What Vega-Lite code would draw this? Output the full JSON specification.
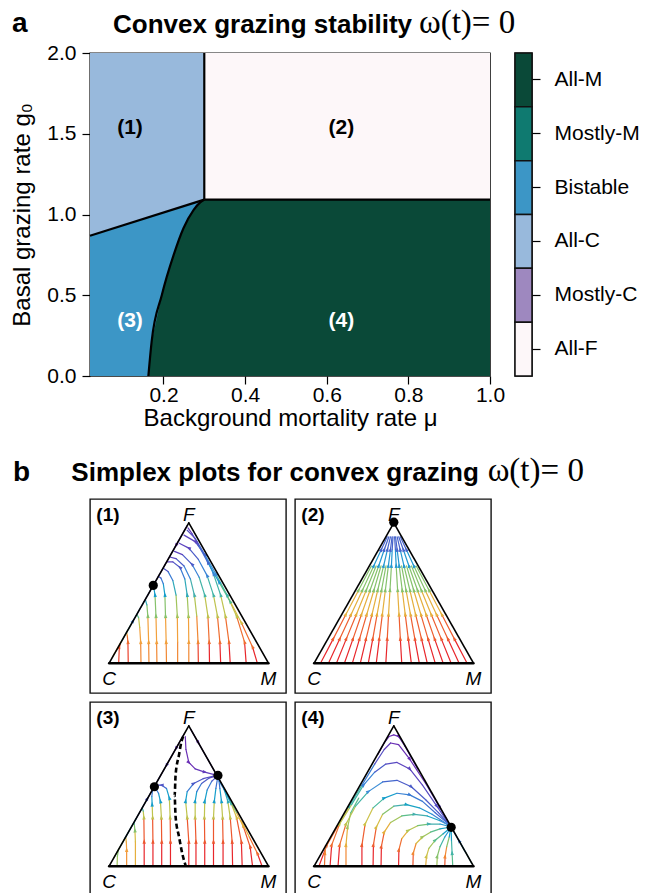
{
  "$schema": "https://vega.github.io/schema/vega-lite/v6.json",
  "background": "white",
  "padding": {"left": 10, "top": 6, "right": 0, "bottom": 0},
  "config": {
    "font": "Liberation Sans",
    "view": {"stroke": "#111", "strokeWidth": 1.4},
    "axis": {"grid": false, "domain": false, "labelColor": "black", "titleColor": "black", "tickColor": "black", "tickSize": 8, "tickWidth": 1.2, "labelFontSize": 21, "titleFontSize": 24, "titleFontWeight": "normal", "labelFlush": false}
  },
  "datasets": {
    "tri": [
      {"e": "b", "x": 0, "y": 0, "x2": 1, "y2": 0},
      {"e": "l", "x": 0, "y": 0, "x2": 0.5, "y2": 0.866},
      {"e": "r", "x": 1, "y": 0, "x2": 0.5, "y2": 0.866}
    ],
    "verts": [
      {"t": "C", "x": 0, "y": -0.1},
      {"t": "M", "x": 1, "y": -0.1},
      {"t": "F", "x": 0.5, "y": 0.917}
    ],
    "p1": [
      {"s": 1, "x": [0.06, 0.064, 0.07], "y": [0, 0.1, 0.12], "c": [0.05, 0.1, 0.15], "a": [0, 1, 0]},
      {"s": 2, "x": [0.12, 0.118, 0.114, 0.11], "y": [0, 0.13, 0.17, 0.19], "c": [0.05, 0.15, 0.25, 0.3], "a": [0, 1, 0, 0]},
      {"s": 3, "x": [0.2, 0.198, 0.192, 0.185, 0.175], "y": [0, 0.13, 0.22, 0.28, 0.3], "c": [0.2, 0.25, 0.4, 0.55, 0.6], "a": [0, 1, 0, 0, 0]},
      {"s": 4, "x": [0.25, 0.248, 0.243, 0.237, 0.228], "y": [0, 0.13, 0.29, 0.36, 0.39], "c": [0.2, 0.25, 0.5, 0.65, 0.7], "a": [0, 1, 1, 0, 0]},
      {"s": 5, "x": [0.3, 0.298, 0.294, 0.288, 0.28], "y": [0, 0.13, 0.29, 0.42, 0.47], "c": [0.2, 0.25, 0.5, 0.7, 0.8], "a": [0, 1, 1, 1, 0]},
      {"s": 6, "x": [0.36, 0.358, 0.354, 0.35, 0.34, 0.325, 0.31], "y": [0, 0.13, 0.29, 0.42, 0.49, 0.525, 0.535], "c": [0.2, 0.25, 0.5, 0.7, 0.8, 0.88, 0.9], "a": [0, 1, 1, 1, 0, 0, 0]},
      {"s": 7, "x": [0.5, 0.5, 0.498, 0.49, 0.475, 0.445, 0.4, 0.36], "y": [0, 0.13, 0.29, 0.42, 0.52, 0.59, 0.625, 0.625], "c": [0.2, 0.25, 0.45, 0.65, 0.8, 0.9, 0.95, 0.95], "a": [0, 1, 1, 1, 0, 1, 0, 0]},
      {"s": 8, "x": [0.63, 0.628, 0.62, 0.6, 0.565, 0.52, 0.46, 0.41], "y": [0, 0.13, 0.29, 0.42, 0.53, 0.61, 0.67, 0.69], "c": [0, 0.15, 0.4, 0.6, 0.78, 0.88, 0.95, 0.95], "a": [0, 1, 1, 1, 0, 1, 0, 0]},
      {"s": 9, "x": [0.7, 0.695, 0.68, 0.655, 0.615, 0.56, 0.5, 0.44], "y": [0, 0.13, 0.29, 0.42, 0.54, 0.64, 0.71, 0.74], "c": [0, 0.15, 0.4, 0.6, 0.78, 0.88, 0.95, 0.97], "a": [0, 1, 1, 1, 1, 0, 1, 0]},
      {"s": 10, "x": [0.76, 0.752, 0.73, 0.7, 0.655, 0.6, 0.54, 0.47], "y": [0, 0.13, 0.29, 0.42, 0.55, 0.67, 0.75, 0.79], "c": [0, 0.15, 0.4, 0.6, 0.78, 0.88, 0.95, 0.97], "a": [0, 1, 1, 1, 1, 0, 1, 0]},
      {"s": 11, "x": [0.86, 0.85, 0.8, 0.74, 0.67, 0.6, 0.54, 0.49], "y": [0, 0.13, 0.29, 0.42, 0.55, 0.67, 0.77, 0.82], "c": [0, 0.15, 0.4, 0.6, 0.75, 0.85, 0.92, 0.97], "a": [0, 1, 1, 1, 1, 1, 0, 0]},
      {"s": 12, "x": [0.93, 0.9, 0.83, 0.76, 0.69, 0.62, 0.56, 0.52, 0.495], "y": [0, 0.1, 0.25, 0.38, 0.5, 0.62, 0.73, 0.8, 0.835], "c": [0, 0.15, 0.35, 0.55, 0.72, 0.85, 0.93, 0.97, 1], "a": [0, 1, 1, 1, 1, 1, 0, 0, 0]},
      {"s": 13, "x": [0.02, 0.08, 0.15, 0.22, 0.27], "y": [0.035, 0.139, 0.26, 0.381, 0.468], "c": [0.3, 0.6, 0.8, 0.9, 0.95], "a": [0, 0, 1, 0, 0]},
      {"s": 14, "x": [0.49, 0.42, 0.35, 0.29], "y": [0.849, 0.727, 0.606, 0.502], "c": [1, 1, 0.97, 0.95], "a": [0, 1, 0, 0]},
      {"s": 15, "x": [0.43, 0.43, 0.428, 0.42, 0.4, 0.37, 0.34], "y": [0, 0.13, 0.29, 0.42, 0.51, 0.565, 0.585], "c": [0.2, 0.25, 0.45, 0.65, 0.8, 0.9, 0.93], "a": [0, 0, 1, 0, 0, 0, 0]},
      {"s": 16, "x": [0.56, 0.558, 0.55, 0.535, 0.51, 0.47, 0.42, 0.38], "y": [0, 0.13, 0.29, 0.42, 0.52, 0.6, 0.645, 0.655], "c": [0.05, 0.2, 0.42, 0.62, 0.78, 0.88, 0.95, 0.96], "a": [0, 1, 0, 1, 0, 0, 0, 0]}
    ],
    "p2": [
      {"s": 1, "x": [0.04, 0.12, 0.199, 0.279, 0.359], "y": [0, 0.15, 0.3, 0.45, 0.6], "c": [0, 0.12, 0.3, 0.5, 0.72], "a": [0, 1, 1, 1, 0]},
      {"s": 2, "x": [0.09, 0.161, 0.232, 0.303, 0.374, 0.421, 0.459], "y": [0, 0.15, 0.3, 0.45, 0.6, 0.7, 0.78], "c": [0, 0.12, 0.3, 0.5, 0.72, 0.86, 0.97], "a": [0, 1, 1, 1, 1, 1, 0]},
      {"s": 3, "x": [0.14, 0.202, 0.265, 0.327, 0.389], "y": [0, 0.15, 0.3, 0.45, 0.6], "c": [0, 0.12, 0.3, 0.5, 0.72], "a": [0, 1, 1, 1, 0]},
      {"s": 4, "x": [0.19, 0.244, 0.297, 0.351, 0.405, 0.44, 0.469], "y": [0, 0.15, 0.3, 0.45, 0.6, 0.7, 0.78], "c": [0, 0.12, 0.3, 0.5, 0.72, 0.86, 0.97], "a": [0, 1, 1, 1, 1, 1, 0]},
      {"s": 5, "x": [0.24, 0.285, 0.33, 0.375, 0.42], "y": [0, 0.15, 0.3, 0.45, 0.6], "c": [0, 0.12, 0.3, 0.5, 0.72], "a": [0, 1, 1, 1, 0]},
      {"s": 6, "x": [0.29, 0.326, 0.363, 0.399, 0.436, 0.46, 0.479], "y": [0, 0.15, 0.3, 0.45, 0.6, 0.7, 0.78], "c": [0, 0.12, 0.3, 0.5, 0.72, 0.86, 0.97], "a": [0, 1, 1, 1, 1, 1, 0]},
      {"s": 7, "x": [0.34, 0.368, 0.395, 0.423, 0.451], "y": [0, 0.15, 0.3, 0.45, 0.6], "c": [0, 0.12, 0.3, 0.5, 0.72], "a": [0, 1, 1, 1, 0]},
      {"s": 8, "x": [0.39, 0.409, 0.428, 0.447, 0.466, 0.479, 0.489], "y": [0, 0.15, 0.3, 0.45, 0.6, 0.7, 0.78], "c": [0, 0.12, 0.3, 0.5, 0.72, 0.86, 0.97], "a": [0, 1, 1, 1, 1, 1, 0]},
      {"s": 9, "x": [0.45, 0.459, 0.467, 0.476, 0.485, 0.49, 0.495], "y": [0, 0.15, 0.3, 0.45, 0.6, 0.7, 0.78], "c": [0, 0.12, 0.3, 0.5, 0.72, 0.86, 0.97], "a": [0, 1, 1, 1, 1, 0, 0]},
      {"s": 10, "x": [0.55, 0.541, 0.533, 0.524, 0.515, 0.51, 0.505], "y": [0, 0.15, 0.3, 0.45, 0.6, 0.7, 0.78], "c": [0, 0.12, 0.3, 0.5, 0.72, 0.86, 0.97], "a": [0, 1, 1, 1, 1, 0, 0]},
      {"s": 11, "x": [0.61, 0.591, 0.572, 0.553, 0.534, 0.521, 0.511], "y": [0, 0.15, 0.3, 0.45, 0.6, 0.7, 0.78], "c": [0, 0.12, 0.3, 0.5, 0.72, 0.86, 0.97], "a": [0, 1, 1, 1, 1, 1, 0]},
      {"s": 12, "x": [0.66, 0.632, 0.605, 0.577, 0.549], "y": [0, 0.15, 0.3, 0.45, 0.6], "c": [0, 0.12, 0.3, 0.5, 0.72], "a": [0, 1, 1, 1, 0]},
      {"s": 13, "x": [0.71, 0.674, 0.637, 0.601, 0.564, 0.54, 0.521], "y": [0, 0.15, 0.3, 0.45, 0.6, 0.7, 0.78], "c": [0, 0.12, 0.3, 0.5, 0.72, 0.86, 0.97], "a": [0, 1, 1, 1, 1, 1, 0]},
      {"s": 14, "x": [0.76, 0.715, 0.67, 0.625, 0.58], "y": [0, 0.15, 0.3, 0.45, 0.6], "c": [0, 0.12, 0.3, 0.5, 0.72], "a": [0, 1, 1, 1, 0]},
      {"s": 15, "x": [0.81, 0.756, 0.703, 0.649, 0.595, 0.56, 0.531], "y": [0, 0.15, 0.3, 0.45, 0.6, 0.7, 0.78], "c": [0, 0.12, 0.3, 0.5, 0.72, 0.86, 0.97], "a": [0, 1, 1, 1, 1, 1, 0]},
      {"s": 16, "x": [0.86, 0.798, 0.735, 0.673, 0.611], "y": [0, 0.15, 0.3, 0.45, 0.6], "c": [0, 0.12, 0.3, 0.5, 0.72], "a": [0, 1, 1, 1, 0]},
      {"s": 17, "x": [0.91, 0.839, 0.768, 0.697, 0.626, 0.579, 0.541], "y": [0, 0.15, 0.3, 0.45, 0.6, 0.7, 0.78], "c": [0, 0.12, 0.3, 0.5, 0.72, 0.86, 0.97], "a": [0, 1, 1, 1, 1, 1, 0]},
      {"s": 18, "x": [0.96, 0.88, 0.801, 0.721, 0.641], "y": [0, 0.15, 0.3, 0.45, 0.6], "c": [0, 0.12, 0.3, 0.5, 0.72], "a": [0, 1, 1, 1, 0]}
    ],
    "p3": [
      {"s": 1, "x": [0.05, 0.052, 0.058], "y": [0, 0.06, 0.1], "c": [0.45, 0.5, 0.55], "a": [0, 0, 0]},
      {"s": 2, "x": [0.11, 0.11, 0.108, 0.104], "y": [0, 0.1, 0.15, 0.18], "c": [0.22, 0.25, 0.3, 0.35], "a": [0, 1, 0, 0]},
      {"s": 3, "x": [0.165, 0.165, 0.162, 0.158, 0.155], "y": [0, 0.15, 0.22, 0.26, 0.268], "c": [0.3, 0.35, 0.5, 0.6, 0.65], "a": [0, 0, 1, 0, 0]},
      {"s": 4, "x": [0.22, 0.22, 0.218, 0.214, 0.208], "y": [0, 0.15, 0.3, 0.34, 0.36], "c": [0, 0.1, 0.4, 0.6, 0.7], "a": [0, 1, 1, 0, 0]},
      {"s": 5, "x": [0.275, 0.275, 0.273, 0.27, 0.268, 0.272], "y": [0, 0.15, 0.3, 0.38, 0.43, 0.465], "c": [0, 0.1, 0.4, 0.7, 0.8, 0.85], "a": [0, 1, 1, 1, 0, 0]},
      {"s": 6, "x": [0.33, 0.33, 0.328, 0.322, 0.31, 0.295], "y": [0, 0.15, 0.3, 0.4, 0.45, 0.475], "c": [0, 0.1, 0.4, 0.7, 0.8, 0.85], "a": [0, 1, 1, 1, 0, 0]},
      {"s": 7, "x": [0.385, 0.385, 0.383, 0.378, 0.36, 0.33, 0.3], "y": [0, 0.15, 0.3, 0.42, 0.48, 0.5, 0.5], "c": [0, 0.1, 0.4, 0.7, 0.85, 0.9, 0.92], "a": [0, 1, 1, 1, 0, 1, 0]},
      {"s": 8, "x": [0.47, 0.42, 0.36, 0.3], "y": [0.814, 0.727, 0.623, 0.52], "c": [1, 0.98, 0.95, 0.93], "a": [0, 1, 1, 0]},
      {"s": 9, "x": [0.03, 0.1, 0.17, 0.24, 0.275], "y": [0.052, 0.173, 0.294, 0.416, 0.476], "c": [0.5, 0.7, 0.85, 0.9, 0.93], "a": [0, 0, 0, 1, 0]},
      {"s": 10, "x": [0.5, 0.5, 0.49, 0.48, 0.49, 0.53, 0.59, 0.65, 0.675], "y": [0, 0.15, 0.3, 0.4, 0.46, 0.51, 0.54, 0.555, 0.558], "c": [0, 0.1, 0.4, 0.7, 0.8, 0.88, 0.92, 0.95, 0.97], "a": [0, 1, 1, 1, 0, 1, 0, 0, 0]},
      {"s": 11, "x": [0.545, 0.545, 0.54, 0.54, 0.55, 0.58, 0.63, 0.67], "y": [0, 0.15, 0.3, 0.4, 0.46, 0.51, 0.545, 0.556], "c": [0, 0.1, 0.4, 0.7, 0.8, 0.88, 0.93, 0.96], "a": [0, 1, 1, 1, 0, 0, 0, 0]},
      {"s": 12, "x": [0.6, 0.6, 0.598, 0.6, 0.615, 0.645, 0.675], "y": [0, 0.15, 0.3, 0.4, 0.47, 0.525, 0.552], "c": [0, 0.1, 0.4, 0.7, 0.8, 0.9, 0.95], "a": [0, 1, 1, 1, 0, 0, 0]},
      {"s": 13, "x": [0.655, 0.655, 0.655, 0.66, 0.67, 0.68], "y": [0, 0.15, 0.3, 0.4, 0.48, 0.54], "c": [0, 0.1, 0.4, 0.7, 0.82, 0.9], "a": [0, 1, 1, 1, 0, 0]},
      {"s": 14, "x": [0.715, 0.715, 0.712, 0.705, 0.695, 0.688], "y": [0, 0.15, 0.3, 0.4, 0.48, 0.54], "c": [0, 0.1, 0.4, 0.7, 0.82, 0.9], "a": [0, 1, 1, 1, 0, 0]},
      {"s": 15, "x": [0.775, 0.772, 0.76, 0.745, 0.72, 0.692], "y": [0, 0.15, 0.3, 0.4, 0.48, 0.53], "c": [0, 0.1, 0.4, 0.65, 0.8, 0.88], "a": [0, 1, 1, 1, 0, 0]},
      {"s": 16, "x": [0.835, 0.83, 0.8, 0.765, 0.73, 0.69], "y": [0, 0.15, 0.3, 0.39, 0.46, 0.525], "c": [0, 0.1, 0.35, 0.6, 0.75, 0.85], "a": [0, 1, 1, 1, 0, 0]},
      {"s": 17, "x": [0.9, 0.885, 0.84, 0.8, 0.76, 0.72], "y": [0, 0.12, 0.25, 0.33, 0.4, 0.475], "c": [0, 0.1, 0.3, 0.5, 0.7, 0.8], "a": [0, 1, 1, 0, 0, 0]},
      {"s": 18, "x": [0.96, 0.93, 0.88, 0.83], "y": [0, 0.08, 0.18, 0.28], "c": [0, 0.15, 0.3, 0.45], "a": [0, 1, 0, 0]},
      {"s": 19, "x": [0.51, 0.56, 0.62, 0.67], "y": [0.848, 0.762, 0.658, 0.57], "c": [1, 1, 0.98, 0.97], "a": [0, 1, 0, 0]},
      {"s": 20, "x": [0.478, 0.482, 0.5, 0.54, 0.6, 0.66], "y": [0.8, 0.72, 0.64, 0.6, 0.58, 0.565], "c": [1, 1, 1, 0.98, 0.97, 0.97], "a": [0, 0, 1, 0, 1, 0]}
    ],
    "sep": [
      {"o": 0, "x": 0.465, "y": 0.8},
      {"o": 1, "x": 0.455, "y": 0.773},
      {"o": 2, "x": 0.439, "y": 0.689},
      {"o": 3, "x": 0.417, "y": 0.561},
      {"o": 4, "x": 0.411, "y": 0.434},
      {"o": 5, "x": 0.417, "y": 0.307},
      {"o": 6, "x": 0.439, "y": 0.18},
      {"o": 7, "x": 0.46, "y": 0.074},
      {"o": 8, "x": 0.481, "y": 0}
    ],
    "p4": [
      {"s": 1, "x": [0.03, 0.08, 0.15, 0.22, 0.3, 0.38, 0.44, 0.48, 0.53, 0.6, 0.7, 0.79, 0.85], "y": [0, 0.13, 0.25, 0.37, 0.5, 0.63, 0.72, 0.76, 0.75, 0.66, 0.51, 0.36, 0.26], "c": [0, 0.15, 0.4, 0.6, 0.8, 0.92, 0.97, 1, 1, 1, 0.98, 0.97, 0.95], "a": [0, 1, 0, 1, 0, 0, 0, 0, 0, 1, 0, 1, 0]},
      {"s": 2, "x": [0.1, 0.11, 0.16, 0.235, 0.31, 0.38, 0.45, 0.52, 0.6, 0.68, 0.77, 0.85], "y": [0, 0.13, 0.26, 0.38, 0.5, 0.58, 0.63, 0.64, 0.6, 0.5, 0.37, 0.255], "c": [0, 0.15, 0.4, 0.6, 0.78, 0.88, 0.93, 0.95, 0.95, 0.93, 0.92, 0.93], "a": [0, 1, 1, 0, 1, 0, 0, 0, 1, 0, 1, 0]},
      {"s": 3, "x": [0.15, 0.16, 0.2, 0.26, 0.34, 0.43, 0.52, 0.61, 0.7, 0.78, 0.85], "y": [0, 0.13, 0.26, 0.37, 0.46, 0.52, 0.53, 0.49, 0.41, 0.33, 0.255], "c": [0, 0.15, 0.4, 0.6, 0.75, 0.85, 0.88, 0.88, 0.88, 0.88, 0.9], "a": [0, 1, 1, 0, 1, 0, 0, 1, 0, 0, 0]},
      {"s": 4, "x": [0.3, 0.3, 0.32, 0.37, 0.44, 0.52, 0.6, 0.68, 0.76, 0.85], "y": [0, 0.13, 0.26, 0.36, 0.42, 0.45, 0.44, 0.4, 0.33, 0.255], "c": [0, 0.12, 0.38, 0.58, 0.7, 0.78, 0.8, 0.82, 0.85, 0.9], "a": [0, 1, 1, 0, 1, 0, 1, 0, 0, 0]},
      {"s": 5, "x": [0.37, 0.372, 0.39, 0.43, 0.5, 0.58, 0.66, 0.74, 0.85], "y": [0, 0.13, 0.24, 0.32, 0.37, 0.38, 0.36, 0.32, 0.25], "c": [0, 0.12, 0.35, 0.5, 0.62, 0.68, 0.72, 0.78, 0.88], "a": [0, 1, 1, 0, 0, 1, 0, 0, 0]},
      {"s": 6, "x": [0.42, 0.422, 0.44, 0.48, 0.55, 0.63, 0.71, 0.79, 0.85], "y": [0, 0.12, 0.21, 0.27, 0.31, 0.32, 0.31, 0.28, 0.25], "c": [0, 0.12, 0.3, 0.45, 0.55, 0.62, 0.68, 0.75, 0.88], "a": [0, 1, 1, 0, 0, 1, 0, 0, 0]},
      {"s": 7, "x": [0.53, 0.532, 0.55, 0.59, 0.65, 0.72, 0.79, 0.85], "y": [0, 0.1, 0.17, 0.22, 0.25, 0.26, 0.26, 0.245], "c": [0, 0.15, 0.3, 0.42, 0.52, 0.62, 0.72, 0.88], "a": [0, 1, 0, 1, 0, 1, 0, 0]},
      {"s": 8, "x": [0.62, 0.622, 0.64, 0.68, 0.73, 0.79, 0.85], "y": [0, 0.08, 0.14, 0.18, 0.21, 0.23, 0.24], "c": [0.1, 0.2, 0.35, 0.45, 0.55, 0.68, 0.85], "a": [0, 1, 0, 1, 0, 0, 0]},
      {"s": 9, "x": [0.7, 0.705, 0.72, 0.76, 0.81, 0.85], "y": [0, 0.06, 0.11, 0.16, 0.2, 0.232], "c": [0.3, 0.38, 0.45, 0.55, 0.7, 0.85], "a": [0, 1, 0, 1, 0, 0]},
      {"s": 10, "x": [0.77, 0.773, 0.79, 0.82, 0.852], "y": [0, 0.06, 0.12, 0.18, 0.228], "c": [0.45, 0.5, 0.6, 0.72, 0.85], "a": [0, 1, 0, 0, 0]},
      {"s": 11, "x": [0.82, 0.822, 0.832, 0.848, 0.856], "y": [0, 0.06, 0.12, 0.18, 0.225], "c": [0.1, 0.2, 0.5, 0.7, 0.85], "a": [0, 1, 0, 0, 0]},
      {"s": 12, "x": [0.87, 0.866, 0.862, 0.86], "y": [0, 0.08, 0.16, 0.225], "c": [0.55, 0.6, 0.7, 0.85], "a": [0, 1, 0, 0]},
      {"s": 13, "x": [0.99, 0.95, 0.91, 0.87], "y": [0.017, 0.087, 0.156, 0.225], "c": [0.6, 0.7, 0.8, 0.9], "a": [0, 0, 1, 0]},
      {"s": 14, "x": [0.065, 0.068, 0.072], "y": [0, 0.08, 0.115], "c": [0.15, 0.2, 0.25], "a": [0, 1, 0]},
      {"s": 15, "x": [0.2, 0.2, 0.21, 0.23, 0.28], "y": [0, 0.13, 0.24, 0.33, 0.42], "c": [0.2, 0.3, 0.45, 0.55, 0.7], "a": [0, 1, 1, 0, 0]},
      {"s": 16, "x": [0.4, 0.44, 0.47, 0.5, 0.53, 0.57, 0.65], "y": [0.69, 0.76, 0.8, 0.81, 0.8, 0.74, 0.6], "c": [1, 1, 1, 1, 1, 1, 1], "a": [0, 0, 0, 0, 1, 0, 0]}
    ]
  },
  "spacing": 22,
  "vconcat": [
    {
      "spacing": 25,
      "bounds": "flush",
      "hconcat": [
        {
          "width": 400,
          "height": 323,
          "layer": [
            {
              "data": {"values": [
                {"r": "All-C", "x": 0.02, "x2": 0.3, "y": 0, "y2": 2},
                {"r": "All-F", "x": 0.3, "x2": 1, "y": 1.092, "y2": 2}
              ]},
              "mark": {"type": "rect"},
              "encoding": {
                "x": {"field": "x", "type": "quantitative", "scale": {"domain": [0.02, 1], "nice": false, "zero": false},
                      "axis": {"values": [0.2, 0.4, 0.6, 0.8, 1.0], "format": ".1f", "title": "Background mortality rate μ", "labelPadding": 0, "titlePadding": 1}},
                "x2": {"field": "x2"},
                "y": {"field": "y", "type": "quantitative", "scale": {"domain": [0, 2], "nice": false, "zero": false},
                      "axis": {"values": [0, 0.5, 1, 1.5, 2], "format": ".1f", "title": "Basal grazing rate g₀", "labelPadding": 6, "titlePadding": 12}},
                "y2": {"field": "y2"},
                "color": {"field": "r", "type": "nominal", "legend": null,
                          "scale": {"domain": ["All-F", "Mostly-C", "All-C", "Bistable", "Mostly-M", "All-M"],
                                    "range": ["#fdf7f9", "#9e88bf", "#98b9dc", "#3c96c6", "#0f7a70", "#0a4938"]}}
              }
            },
            {
              "data": {"values": [
                {"r": "Bistable", "x": 0.02, "y": 0.868},
                {"r": "Bistable", "x": 0.3, "y": 1.092}
              ]},
              "mark": {"type": "area"},
              "encoding": {
                "x": {"field": "x", "type": "quantitative"},
                "y": {"field": "y", "type": "quantitative"},
                "y2": {"datum": 0},
                "color": {"field": "r", "type": "nominal", "legend": null}
              }
            },
            {
              "data": {"values": [
                {"r": "All-M", "x": 0.163, "y": 0},
                {"r": "All-M", "x": 0.171, "y": 0.213},
                {"r": "All-M", "x": 0.196, "y": 0.502},
                {"r": "All-M", "x": 0.225, "y": 0.75},
                {"r": "All-M", "x": 0.249, "y": 0.915},
                {"r": "All-M", "x": 0.274, "y": 1.029},
                {"r": "All-M", "x": 0.29, "y": 1.075},
                {"r": "All-M", "x": 0.3, "y": 1.092},
                {"r": "All-M", "x": 1.0, "y": 1.092}
              ]},
              "mark": {"type": "area"},
              "encoding": {
                "x": {"field": "x", "type": "quantitative"},
                "y": {"field": "y", "type": "quantitative"},
                "y2": {"datum": 0},
                "color": {"field": "r", "type": "nominal", "legend": null}
              }
            },
            {
              "data": {"values": [
                {"seg": "v", "x": 0.3, "y": 1.092}, {"seg": "v", "x": 0.3, "y": 2},
                {"seg": "h", "x": 0.3, "y": 1.092}, {"seg": "h", "x": 1.0, "y": 1.092},
                {"seg": "L", "x": 0.02, "y": 0.868}, {"seg": "L", "x": 0.3, "y": 1.092},
                {"seg": "c", "x": 0.163, "y": 0},
                {"seg": "c", "x": 0.171, "y": 0.213},
                {"seg": "c", "x": 0.196, "y": 0.502},
                {"seg": "c", "x": 0.225, "y": 0.75},
                {"seg": "c", "x": 0.249, "y": 0.915},
                {"seg": "c", "x": 0.274, "y": 1.029},
                {"seg": "c", "x": 0.29, "y": 1.075},
                {"seg": "c", "x": 0.3, "y": 1.092}
              ]},
              "mark": {"type": "line", "color": "black", "strokeWidth": 2.2, "interpolate": "monotone"},
              "encoding": {
                "x": {"field": "x", "type": "quantitative"},
                "y": {"field": "y", "type": "quantitative"},
                "detail": {"field": "seg"}
              }
            },
            {
              "data": {"values": [
                {"t": "(1)", "x": 0.118, "y": 1.535},
                {"t": "(2)", "x": 0.636, "y": 1.535},
                {"t": "(3)", "x": 0.118, "y": 0.34},
                {"t": "(4)", "x": 0.636, "y": 0.34}
              ]},
              "mark": {"type": "text", "fontSize": 21, "fontWeight": "bold", "align": "center", "baseline": "middle"},
              "encoding": {
                "x": {"field": "x", "type": "quantitative"},
                "y": {"field": "y", "type": "quantitative"},
                "text": {"field": "t"},
                "color": {"condition": {"test": "datum.y < 1", "value": "white"}, "value": "black"}
              }
            },
            {
              "data": {"values": [{"t": "a", "x": -0.171, "y": 2.128}]},
              "mark": {"type": "text", "fontSize": 28, "fontWeight": "bold", "align": "left", "baseline": "alphabetic", "color": "black"},
              "encoding": {"x": {"field": "x", "type": "quantitative"}, "y": {"field": "y", "type": "quantitative"}, "text": {"field": "t"}}
            },
            {
              "data": {"values": [{"t": "Convex grazing stability", "x": 0.0764, "y": 2.122}]},
              "mark": {"type": "text", "fontSize": 26, "fontWeight": "bold", "align": "left", "baseline": "alphabetic", "color": "black"},
              "encoding": {"x": {"field": "x", "type": "quantitative"}, "y": {"field": "y", "type": "quantitative"}, "text": {"field": "t"}}
            },
            {
              "data": {"values": [{"t": "ω(t)= 0", "x": 0.826, "y": 2.122}]},
              "mark": {"type": "text", "fontSize": 33, "font": "Liberation Serif", "align": "left", "baseline": "alphabetic", "color": "black"},
              "encoding": {"x": {"field": "x", "type": "quantitative"}, "y": {"field": "y", "type": "quantitative"}, "text": {"field": "t"}}
            }
          ]
        },
        {
          "width": 17,
          "height": 323,
          "data": {"values": [{"r": "All-M"}, {"r": "Mostly-M"}, {"r": "Bistable"}, {"r": "All-C"}, {"r": "Mostly-C"}, {"r": "All-F"}]},
          "mark": {"type": "rect", "stroke": "#111", "strokeWidth": 1.5},
          "encoding": {
            "y": {"field": "r", "type": "nominal", "sort": ["All-M", "Mostly-M", "Bistable", "All-C", "Mostly-C", "All-F"],
                  "scale": {"paddingInner": 0, "paddingOuter": 0},
                  "axis": {"orient": "right", "title": null, "labelPadding": 14, "labelAngle": 0}},
            "color": {"field": "r", "type": "nominal", "legend": null,
                      "scale": {"domain": ["All-F", "Mostly-C", "All-C", "Bistable", "Mostly-M", "All-M"],
                                "range": ["#fdf7f9", "#9e88bf", "#98b9dc", "#3c96c6", "#0f7a70", "#0a4938"]}}
          }
        }
      ]
    },
    {
      "spacing": 7,
      "vconcat": [
        {
          "spacing": 9,
          "bounds": "flush",
          "hconcat": [
            {
              "width": 196, "height": 194,
              "layer": [
                {
                  "data": {"name": "p1"},
                  "transform": [
                    {"flatten": ["x", "y", "c", "a"]},
                    {"window": [{"op": "lead", "field": "x", "as": "x2"}, {"op": "lead", "field": "y", "as": "y2"}], "groupby": ["s"]},
                    {"filter": "datum.x2 != null"}
                  ],
                  "mark": {"type": "rule", "strokeWidth": 1.2, "strokeCap": "round"},
                  "encoding": {
                    "x": {"field": "x", "type": "quantitative", "scale": {"domain": [-0.12, 1.11], "nice": false, "zero": false}, "axis": null},
                    "y": {"field": "y", "type": "quantitative", "scale": {"domain": [-0.184, 1.013], "nice": false, "zero": false}, "axis": null},
                    "x2": {"field": "x2"}, "y2": {"field": "y2"},
                    "color": {"field": "c", "type": "quantitative", "legend": null, "scale": {"domain": [0, 1], "range": ["#e8262b", "#ee6030", "#f2a03c", "#cfc24a", "#86c26c", "#45aeb0", "#3e8ed6", "#4a5cc8", "#6a2fb5"]}}
                  }
                },
                {
                  "data": {"name": "p1"},
                  "transform": [
                    {"flatten": ["x", "y", "c", "a"]},
                    {"window": [{"op": "lead", "field": "x", "as": "x2"}, {"op": "lead", "field": "y", "as": "y2"}], "groupby": ["s"]},
                    {"filter": "datum.a == 1 && datum.x2 != null"},
                    {"calculate": "atan2(datum.x2 - datum.x, datum.y2 - datum.y) * 180 / PI", "as": "ang"}
                  ],
                  "mark": {"type": "point", "shape": "M0,-1L0.6,0.7L-0.6,0.7Z", "filled": true, "size": 32, "opacity": 1, "strokeWidth": 0},
                  "encoding": {
                    "x": {"field": "x", "type": "quantitative"}, "y": {"field": "y", "type": "quantitative"},
                    "angle": {"field": "ang", "type": "quantitative", "scale": null},
                    "color": {"field": "c", "type": "quantitative", "legend": null}
                  }
                },
                {
                  "data": {"name": "tri"},
                  "mark": {"type": "rule", "color": "black", "strokeCap": "round"},
                  "encoding": {
                    "x": {"field": "x", "type": "quantitative"}, "y": {"field": "y", "type": "quantitative"},
                    "x2": {"field": "x2"}, "y2": {"field": "y2"},
                    "strokeWidth": {"condition": {"test": "datum.e == 'b'", "value": 2.4}, "value": 1.6}
                  }
                },
                {
                  "data": {"values": [{"x": 0.277, "y": 0.48}]},
                  "mark": {"type": "circle", "color": "black", "size": 85, "opacity": 1},
                  "encoding": {"x": {"field": "x", "type": "quantitative"}, "y": {"field": "y", "type": "quantitative"}}
                },
                {
                  "data": {"name": "verts"},
                  "mark": {"type": "text", "fontSize": 19, "fontStyle": "italic", "align": "center", "baseline": "middle", "color": "black"},
                  "encoding": {"x": {"field": "x", "type": "quantitative"}, "y": {"field": "y", "type": "quantitative"}, "text": {"field": "t"}}
                },
                {
                  "data": {"values": [{"t": "(1)", "x": -0.08, "y": 0.917}]},
                  "mark": {"type": "text", "fontSize": 19, "fontWeight": "bold", "align": "left", "baseline": "middle", "color": "black"},
                  "encoding": {"x": {"field": "x", "type": "quantitative"}, "y": {"field": "y", "type": "quantitative"}, "text": {"field": "t"}}
                },
                {
                  "data": {"values": [{"t": "b", "x": -0.603, "y": 1.127}]},
                  "mark": {"type": "text", "fontSize": 28, "fontWeight": "bold", "align": "left", "baseline": "alphabetic", "color": "black"},
                  "encoding": {"x": {"field": "x", "type": "quantitative"}, "y": {"field": "y", "type": "quantitative"}, "text": {"field": "t"}}
                },
                {
                  "data": {"values": [{"t": "Simplex plots for convex grazing", "x": -0.237, "y": 1.127}]},
                  "mark": {"type": "text", "fontSize": 26, "fontWeight": "bold", "align": "left", "baseline": "alphabetic", "color": "black"},
                  "encoding": {"x": {"field": "x", "type": "quantitative"}, "y": {"field": "y", "type": "quantitative"}, "text": {"field": "t"}}
                }
              ]
            },
            {
              "width": 196, "height": 194,
              "layer": [
                {
                  "data": {"name": "p2"},
                  "transform": [
                    {"flatten": ["x", "y", "c", "a"]},
                    {"window": [{"op": "lead", "field": "x", "as": "x2"}, {"op": "lead", "field": "y", "as": "y2"}], "groupby": ["s"]},
                    {"filter": "datum.x2 != null"}
                  ],
                  "mark": {"type": "rule", "strokeWidth": 1.2, "strokeCap": "round"},
                  "encoding": {
                    "x": {"field": "x", "type": "quantitative", "scale": {"domain": [-0.12, 1.11], "nice": false, "zero": false}, "axis": null},
                    "y": {"field": "y", "type": "quantitative", "scale": {"domain": [-0.184, 1.013], "nice": false, "zero": false}, "axis": null},
                    "x2": {"field": "x2"}, "y2": {"field": "y2"},
                    "color": {"field": "c", "type": "quantitative", "legend": null, "scale": {"domain": [0, 1], "range": ["#e8262b", "#ee6030", "#f2a03c", "#cfc24a", "#86c26c", "#45aeb0", "#3e8ed6", "#4a5cc8", "#6a2fb5"]}}
                  }
                },
                {
                  "data": {"name": "p2"},
                  "transform": [
                    {"flatten": ["x", "y", "c", "a"]},
                    {"window": [{"op": "lead", "field": "x", "as": "x2"}, {"op": "lead", "field": "y", "as": "y2"}], "groupby": ["s"]},
                    {"filter": "datum.a == 1 && datum.x2 != null"},
                    {"calculate": "atan2(datum.x2 - datum.x, datum.y2 - datum.y) * 180 / PI", "as": "ang"}
                  ],
                  "mark": {"type": "point", "shape": "M0,-1L0.6,0.7L-0.6,0.7Z", "filled": true, "size": 32, "opacity": 1, "strokeWidth": 0},
                  "encoding": {
                    "x": {"field": "x", "type": "quantitative"}, "y": {"field": "y", "type": "quantitative"},
                    "angle": {"field": "ang", "type": "quantitative", "scale": null},
                    "color": {"field": "c", "type": "quantitative", "legend": null}
                  }
                },
                {
                  "data": {"name": "tri"},
                  "mark": {"type": "rule", "color": "black", "strokeCap": "round"},
                  "encoding": {
                    "x": {"field": "x", "type": "quantitative"}, "y": {"field": "y", "type": "quantitative"},
                    "x2": {"field": "x2"}, "y2": {"field": "y2"},
                    "strokeWidth": {"condition": {"test": "datum.e == 'b'", "value": 2.4}, "value": 1.6}
                  }
                },
                {
                  "data": {"values": [{"x": 0.5, "y": 0.87}]},
                  "mark": {"type": "circle", "color": "black", "size": 85, "opacity": 1},
                  "encoding": {"x": {"field": "x", "type": "quantitative"}, "y": {"field": "y", "type": "quantitative"}}
                },
                {
                  "data": {"name": "verts"},
                  "mark": {"type": "text", "fontSize": 19, "fontStyle": "italic", "align": "center", "baseline": "middle", "color": "black"},
                  "encoding": {"x": {"field": "x", "type": "quantitative"}, "y": {"field": "y", "type": "quantitative"}, "text": {"field": "t"}}
                },
                {
                  "data": {"values": [{"t": "(2)", "x": -0.08, "y": 0.917}]},
                  "mark": {"type": "text", "fontSize": 19, "fontWeight": "bold", "align": "left", "baseline": "middle", "color": "black"},
                  "encoding": {"x": {"field": "x", "type": "quantitative"}, "y": {"field": "y", "type": "quantitative"}, "text": {"field": "t"}}
                },
                {
                  "data": {"values": [{"t": "ω(t)= 0", "x": 1.089, "y": 1.127}]},
                  "mark": {"type": "text", "fontSize": 33, "font": "Liberation Serif", "align": "left", "baseline": "alphabetic", "color": "black"},
                  "encoding": {"x": {"field": "x", "type": "quantitative"}, "y": {"field": "y", "type": "quantitative"}, "text": {"field": "t"}}
                }
              ]
            }
          ]
        },
        {
          "spacing": 9,
          "bounds": "flush",
          "hconcat": [
            {
              "width": 196, "height": 194,
              "layer": [
                {
                  "data": {"name": "p3"},
                  "transform": [
                    {"flatten": ["x", "y", "c", "a"]},
                    {"window": [{"op": "lead", "field": "x", "as": "x2"}, {"op": "lead", "field": "y", "as": "y2"}], "groupby": ["s"]},
                    {"filter": "datum.x2 != null"}
                  ],
                  "mark": {"type": "rule", "strokeWidth": 1.2, "strokeCap": "round"},
                  "encoding": {
                    "x": {"field": "x", "type": "quantitative", "scale": {"domain": [-0.12, 1.11], "nice": false, "zero": false}, "axis": null},
                    "y": {"field": "y", "type": "quantitative", "scale": {"domain": [-0.184, 1.013], "nice": false, "zero": false}, "axis": null},
                    "x2": {"field": "x2"}, "y2": {"field": "y2"},
                    "color": {"field": "c", "type": "quantitative", "legend": null, "scale": {"domain": [0, 1], "range": ["#e8262b", "#ee6030", "#f2a03c", "#cfc24a", "#86c26c", "#45aeb0", "#3e8ed6", "#4a5cc8", "#6a2fb5"]}}
                  }
                },
                {
                  "data": {"name": "p3"},
                  "transform": [
                    {"flatten": ["x", "y", "c", "a"]},
                    {"window": [{"op": "lead", "field": "x", "as": "x2"}, {"op": "lead", "field": "y", "as": "y2"}], "groupby": ["s"]},
                    {"filter": "datum.a == 1 && datum.x2 != null"},
                    {"calculate": "atan2(datum.x2 - datum.x, datum.y2 - datum.y) * 180 / PI", "as": "ang"}
                  ],
                  "mark": {"type": "point", "shape": "M0,-1L0.6,0.7L-0.6,0.7Z", "filled": true, "size": 32, "opacity": 1, "strokeWidth": 0},
                  "encoding": {
                    "x": {"field": "x", "type": "quantitative"}, "y": {"field": "y", "type": "quantitative"},
                    "angle": {"field": "ang", "type": "quantitative", "scale": null},
                    "color": {"field": "c", "type": "quantitative", "legend": null}
                  }
                },
                {
                  "data": {"name": "sep"},
                  "mark": {"type": "line", "color": "white", "strokeWidth": 2.6, "interpolate": "monotone"},
                  "encoding": {"x": {"field": "x", "type": "quantitative"}, "y": {"field": "y", "type": "quantitative"}, "order": {"field": "o"}}
                },
                {
                  "data": {"name": "sep"},
                  "mark": {"type": "line", "color": "black", "strokeWidth": 2.6, "strokeDash": [5, 3], "interpolate": "monotone"},
                  "encoding": {"x": {"field": "x", "type": "quantitative"}, "y": {"field": "y", "type": "quantitative"}, "order": {"field": "o"}}
                },
                {
                  "data": {"name": "tri"},
                  "mark": {"type": "rule", "color": "black", "strokeCap": "round"},
                  "encoding": {
                    "x": {"field": "x", "type": "quantitative"}, "y": {"field": "y", "type": "quantitative"},
                    "x2": {"field": "x2"}, "y2": {"field": "y2"},
                    "strokeWidth": {"condition": {"test": "datum.e == 'b'", "value": 2.4}, "value": 1.6}
                  }
                },
                {
                  "data": {"values": [{"x": 0.284, "y": 0.49}, {"x": 0.683, "y": 0.56}]},
                  "mark": {"type": "circle", "color": "black", "size": 85, "opacity": 1},
                  "encoding": {"x": {"field": "x", "type": "quantitative"}, "y": {"field": "y", "type": "quantitative"}}
                },
                {
                  "data": {"name": "verts"},
                  "mark": {"type": "text", "fontSize": 19, "fontStyle": "italic", "align": "center", "baseline": "middle", "color": "black"},
                  "encoding": {"x": {"field": "x", "type": "quantitative"}, "y": {"field": "y", "type": "quantitative"}, "text": {"field": "t"}}
                },
                {
                  "data": {"values": [{"t": "(3)", "x": -0.08, "y": 0.917}]},
                  "mark": {"type": "text", "fontSize": 19, "fontWeight": "bold", "align": "left", "baseline": "middle", "color": "black"},
                  "encoding": {"x": {"field": "x", "type": "quantitative"}, "y": {"field": "y", "type": "quantitative"}, "text": {"field": "t"}}
                }
              ]
            },
            {
              "width": 196, "height": 194,
              "layer": [
                {
                  "data": {"name": "p4"},
                  "transform": [
                    {"flatten": ["x", "y", "c", "a"]},
                    {"window": [{"op": "lead", "field": "x", "as": "x2"}, {"op": "lead", "field": "y", "as": "y2"}], "groupby": ["s"]},
                    {"filter": "datum.x2 != null"}
                  ],
                  "mark": {"type": "rule", "strokeWidth": 1.2, "strokeCap": "round"},
                  "encoding": {
                    "x": {"field": "x", "type": "quantitative", "scale": {"domain": [-0.12, 1.11], "nice": false, "zero": false}, "axis": null},
                    "y": {"field": "y", "type": "quantitative", "scale": {"domain": [-0.184, 1.013], "nice": false, "zero": false}, "axis": null},
                    "x2": {"field": "x2"}, "y2": {"field": "y2"},
                    "color": {"field": "c", "type": "quantitative", "legend": null, "scale": {"domain": [0, 1], "range": ["#e8262b", "#ee6030", "#f2a03c", "#cfc24a", "#86c26c", "#45aeb0", "#3e8ed6", "#4a5cc8", "#6a2fb5"]}}
                  }
                },
                {
                  "data": {"name": "p4"},
                  "transform": [
                    {"flatten": ["x", "y", "c", "a"]},
                    {"window": [{"op": "lead", "field": "x", "as": "x2"}, {"op": "lead", "field": "y", "as": "y2"}], "groupby": ["s"]},
                    {"filter": "datum.a == 1 && datum.x2 != null"},
                    {"calculate": "atan2(datum.x2 - datum.x, datum.y2 - datum.y) * 180 / PI", "as": "ang"}
                  ],
                  "mark": {"type": "point", "shape": "M0,-1L0.6,0.7L-0.6,0.7Z", "filled": true, "size": 32, "opacity": 1, "strokeWidth": 0},
                  "encoding": {
                    "x": {"field": "x", "type": "quantitative"}, "y": {"field": "y", "type": "quantitative"},
                    "angle": {"field": "ang", "type": "quantitative", "scale": null},
                    "color": {"field": "c", "type": "quantitative", "legend": null}
                  }
                },
                {
                  "data": {"name": "tri"},
                  "mark": {"type": "rule", "color": "black", "strokeCap": "round"},
                  "encoding": {
                    "x": {"field": "x", "type": "quantitative"}, "y": {"field": "y", "type": "quantitative"},
                    "x2": {"field": "x2"}, "y2": {"field": "y2"},
                    "strokeWidth": {"condition": {"test": "datum.e == 'b'", "value": 2.4}, "value": 1.6}
                  }
                },
                {
                  "data": {"values": [{"x": 0.86, "y": 0.24}]},
                  "mark": {"type": "circle", "color": "black", "size": 85, "opacity": 1},
                  "encoding": {"x": {"field": "x", "type": "quantitative"}, "y": {"field": "y", "type": "quantitative"}}
                },
                {
                  "data": {"name": "verts"},
                  "mark": {"type": "text", "fontSize": 19, "fontStyle": "italic", "align": "center", "baseline": "middle", "color": "black"},
                  "encoding": {"x": {"field": "x", "type": "quantitative"}, "y": {"field": "y", "type": "quantitative"}, "text": {"field": "t"}}
                },
                {
                  "data": {"values": [{"t": "(4)", "x": -0.08, "y": 0.917}]},
                  "mark": {"type": "text", "fontSize": 19, "fontWeight": "bold", "align": "left", "baseline": "middle", "color": "black"},
                  "encoding": {"x": {"field": "x", "type": "quantitative"}, "y": {"field": "y", "type": "quantitative"}, "text": {"field": "t"}}
                }
              ]
            }
          ]
        }
      ]
    }
  ]
}
